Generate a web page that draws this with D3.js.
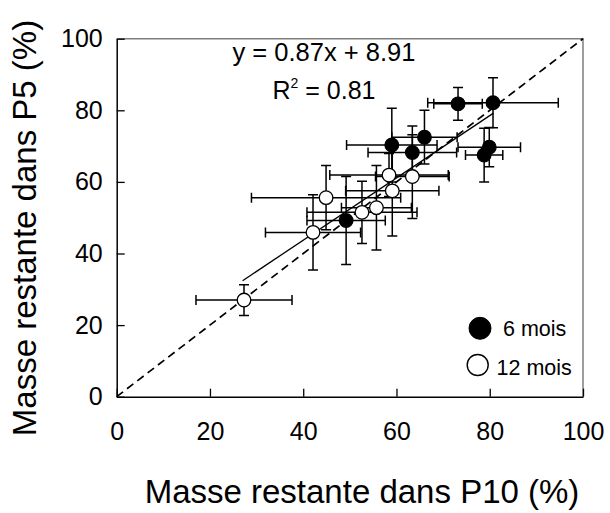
<!DOCTYPE html>
<html><head><meta charset="utf-8">
<script src="https://cdn.jsdelivr.net/npm/d3@7"></script>
<style>
html,body{margin:0;padding:0;background:#fff;}
svg text{font-family:Arial,"Liberation Sans",sans-serif;fill:#000;}
</style></head>
<body><svg id="c" width="610" height="513"></svg>
<script>
// ---- data ----
const sixX    = [73.2, 80.7, 59.0, 66.0, 63.4, 79.9, 78.8, 49.2];
const sixY    = [81.8, 82.1, 70.3, 72.5, 68.2, 69.7, 67.5, 49.2];
const sixXErr = [5.2, 14.0, 9.7, 7.0, 9.5, 6.7, 4.0, 8.4];
const sixYErr = [4.6, 7.0, 10.3, 7.5, 7.4, 5.5, 7.5, 12.3];

const twelveX    = [27.3, 42.1, 44.9, 52.6, 55.7, 59.1, 58.4, 63.4];
const twelveY    = [27.0, 45.9, 55.6, 51.5, 52.8, 57.5, 61.9, 61.5];
const twelveXErr = [10.3, 10.2, 16.0, 11.8, 7.5, 10.0, 12.7, 7.9];
const twelveYErr = [4.3, 10.5, 9.0, 8.7, 11.8, 12.6, 6.0, 11.7];

const xTicks = [0, 20, 40, 60, 80, 100];
const yTicks = [0, 20, 40, 60, 80, 100];
const fitSlope = 0.87, fitIntercept = 8.91;
const fitRange = [27, 80.8];
const identity = [0, 100];
const legendLabels = ["6 mois", "12 mois"];
const eqText = "y = 0.87x + 8.91";

// ---- layout ----
const svg = d3.select("#c");
const L = 116.7, R = 583, T = 38.7, B = 396.7;
const x = d3.scaleLinear().domain([0, 100]).range([L, R]);
const y = d3.scaleLinear().domain([0, 100]).range([B, T]);

// frame: top & right grey
svg.append("path").attr("d", `M${L},${T}H${R}V${B}`)
  .attr("fill","none").attr("stroke","#7f7f7f").attr("stroke-width",1.5);

// axes
const xAxis = d3.axisBottom(x).tickValues(xTicks).tickSizeInner(-8).tickSizeOuter(0).tickPadding(26);
const gx = svg.append("g").attr("transform",`translate(0,${B})`).call(xAxis);
gx.select(".domain").attr("stroke","#000").attr("stroke-width",1.5);
gx.selectAll(".tick line").attr("stroke","#000").attr("stroke-width",1.3);
gx.selectAll(".tick text").attr("font-size",25).attr("font-family","Arial, 'Liberation Sans', sans-serif").attr("fill","#000");

const yAxis = d3.axisLeft(y).tickValues(yTicks).tickSizeInner(-8).tickSizeOuter(0).tickPadding(14);
const gy = svg.append("g").attr("transform",`translate(${L},0)`).call(yAxis);
gy.select(".domain").attr("stroke","#000").attr("stroke-width",1.5);
gy.selectAll(".tick line").attr("stroke","#000").attr("stroke-width",1.3);
gy.selectAll(".tick text").attr("font-size",25).attr("font-family","Arial, 'Liberation Sans', sans-serif").attr("fill","#000");

// axis titles
svg.append("text").attr("x", 362).attr("y", 503)
  .attr("text-anchor","middle").attr("font-size",33).text("Masse restante dans P10 (%)");
svg.append("text").attr("transform","translate(36,228) rotate(-90)")
  .attr("text-anchor","middle").attr("font-size",33).text("Masse restante dans P5 (%)");

// 1:1 dashed line
svg.append("line")
  .attr("x1", x(identity[0])).attr("y1", y(identity[0]))
  .attr("x2", x(identity[1])).attr("y2", y(identity[1]))
  .attr("stroke","#000").attr("stroke-width",1.7).attr("stroke-dasharray","8,5");

// regression line
svg.append("line")
  .attr("x1", x(fitRange[0])).attr("y1", y(fitSlope*fitRange[0]+fitIntercept))
  .attr("x2", x(fitRange[1])).attr("y2", y(fitSlope*fitRange[1]+fitIntercept))
  .attr("stroke","#000").attr("stroke-width",1.3);

// build points
const pts = [];
sixX.forEach((v,i)=>pts.push({x:v,y:sixY[i],xe:sixXErr[i],ye:sixYErr[i],filled:true}));
twelveX.forEach((v,i)=>pts.push({x:v,y:twelveY[i],xe:twelveXErr[i],ye:twelveYErr[i],filled:false}));

const cap = 5;
const eb = svg.append("g").attr("stroke","#000").attr("stroke-width",1.5).attr("fill","none");
pts.forEach(p=>{
  const cx = x(p.x), cy = y(p.y);
  const x0 = x(p.x - p.xe), x1 = x(p.x + p.xe);
  const y0 = y(p.y - p.ye), y1 = y(p.y + p.ye);
  eb.append("path").attr("d",
    `M${x0},${cy}H${x1}M${x0},${cy-cap}V${cy+cap}M${x1},${cy-cap}V${cy+cap}` +
    `M${cx},${y0}V${y1}M${cx-cap},${y0}H${cx+cap}M${cx-cap},${y1}H${cx+cap}`);
});

svg.append("g").selectAll("circle").data(pts).join("circle")
  .attr("cx", d=>x(d.x)).attr("cy", d=>y(d.y)).attr("r",6.8)
  .attr("fill", d=>d.filled ? "#000" : "#fff")
  .attr("stroke","#000").attr("stroke-width",1.3);

// equation text
svg.append("text").attr("x",324).attr("y",61).attr("text-anchor","middle")
  .attr("font-size",25).attr("textLength",183).attr("lengthAdjust","spacingAndGlyphs").text(eqText);
const r2 = svg.append("text").attr("x",324).attr("y",99).attr("text-anchor","middle").attr("font-size",25);
r2.append("tspan").text("R");
r2.append("tspan").attr("font-size",14).attr("dy",-11).text("2");
r2.append("tspan").attr("dy",11).text(" = 0.81");

// legend
const lg = svg.append("g");
lg.append("circle").attr("cx",480).attr("cy",328.3).attr("r",11).attr("fill","#000").attr("stroke","#000");
lg.append("text").attr("x",503).attr("y",336).attr("font-size",21.5).text(legendLabels[0]);
lg.append("circle").attr("cx",477.7).attr("cy",365).attr("r",10.5).attr("fill","#fff").attr("stroke","#000").attr("stroke-width",1.4);
lg.append("text").attr("x",496.5).attr("y",374.5).attr("font-size",21.5).text(legendLabels[1]);
</script></body></html>
